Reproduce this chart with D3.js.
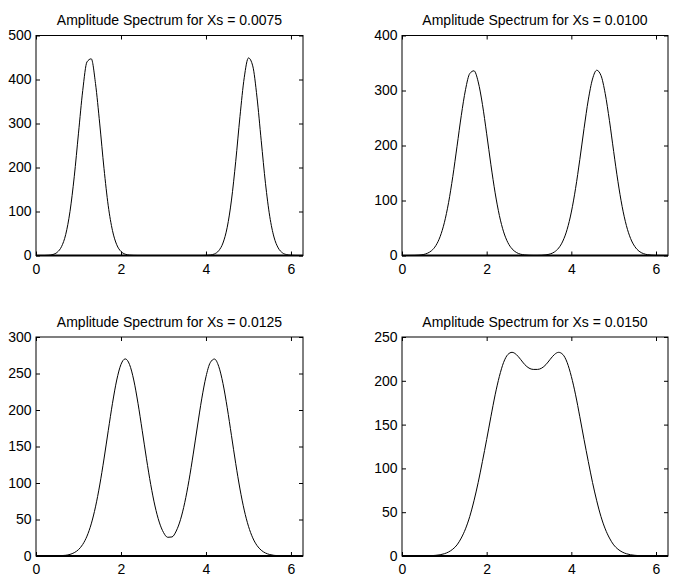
<!DOCTYPE html>
<html>
<head>
<meta charset="utf-8">
<script src="https://cdn.jsdelivr.net/npm/d3@7"></script>
<style>
  body { margin: 0; background: #fff; }
  svg { display: block; }
  text { font-family: "Liberation Sans", Arial, Helvetica, sans-serif; fill: #000; }
</style>
</head>
<body>
<svg id="fig"></svg>
<script>
// frequency axis samples (0 .. 2*pi)
const freq = [0, 0.1, 0.2, 0.3, 0.4, 0.5, 0.6, 0.7, 0.8, 0.9,
    1.0, 1.1, 1.2, 1.3, 1.4, 1.5, 1.6, 1.7, 1.8, 1.9,
    2.0, 2.1, 2.2, 2.3, 2.4, 2.5, 2.6, 2.7, 2.8, 2.9,
    3.0, 3.1, 3.2, 3.3, 3.4, 3.5, 3.6, 3.7, 3.8, 3.9,
    4.0, 4.1, 4.2, 4.3, 4.4, 4.5, 4.6, 4.7, 4.8, 4.9,
    5.0, 5.1, 5.2, 5.3, 5.4, 5.5, 5.6, 5.7, 5.8, 5.9,
    6.0, 6.1, 6.2, 6.2832];

// amplitude spectra
const amp0075 = [0, 0, 0, 0.6, 2.3, 7.4, 20, 48, 100, 179,
    278, 375, 440, 447, 391, 299, 198, 113, 56.5, 24.4,
    9.1, 3.0, 0.8, 0.2, 0, 0, 0, 0, 0, 0,
    0, 0, 0, 0, 0, 0, 0, 0, 0, 0,
    0.3, 1.0, 3.6, 10.9, 28.4, 64.2, 126, 214, 316, 404,
    449, 431, 360, 261, 164, 89.2, 42.1, 17.2, 6.1, 1.9,
    0.5, 0.1, 0, 0];

const amp0100 = [0, 0, 0.1, 0.2, 0.7, 1.7, 4.1, 8.9, 18.1, 34.2,
    59.6, 96.1, 143.6, 198.6, 254.3, 301.4, 330.7, 335.8, 315.7, 274.8,
    221.3, 165.0, 113.9, 72.8, 43.0, 23.6, 12.0, 5.6, 2.4, 1.0,
    0.4, 0.2, 0.2, 0.4, 1.2, 2.8, 6.4, 13.5, 26.3, 47.3,
    79.0, 122.0, 174.4, 230.8, 282.8, 320.8, 336.8, 327.3, 294.4, 245.2,
    189.0, 134.9, 89.1, 54.5, 30.8, 16.2, 7.8, 3.5, 1.5, 0.6,
    0.2, 0.1, 0, 0];

const amp0125 = [0, 0, 0, 0, 0.1, 0.2, 0.5, 1.0, 2.2, 4.6,
    8.7, 15.9, 27.2, 44.0, 67.3, 97.3, 132.9, 171.6, 209.2, 241.1,
    262.5, 270, 262.5, 241.1, 209.2, 171.6, 133.1, 97.8, 68.5, 46.5,
    32.3, 25.6, 26.1, 34.2, 49.7, 73.0, 103.5, 139.6, 178.1, 215.2,
    245.5, 264.8, 269.8, 259.7, 236.3, 203.1, 164.9, 126.6, 91.8, 62.9,
    40.7, 24.9, 14.4, 7.9, 4.1, 2.0, 0.9, 0.4, 0.2, 0.1,
    0, 0, 0, 0];

const amp0150 = [0, 0, 0, 0, 0, 0, 0.2, 0.4, 0.8, 1.4,
    2.6, 4.6, 7.8, 12.7, 20.5, 31, 45, 63, 84, 108,
    133, 159, 184, 205, 221, 230, 232.5, 230, 224.5, 218.5,
    214.5, 213, 213, 214.5, 218.5, 224.5, 230, 232.5, 230, 221,
    205, 184, 159, 133, 108, 84, 63, 45, 31, 20.5,
    12.7, 7.8, 4.6, 2.6, 1.4, 0.8, 0.4, 0.2, 0, 0,
    0, 0, 0, 0];

const titles = ["Amplitude Spectrum for Xs = 0.0075", "Amplitude Spectrum for Xs = 0.0100",
    "Amplitude Spectrum for Xs = 0.0125", "Amplitude Spectrum for Xs = 0.0150"];
const xTicks = [0, 2, 4, 6];
const yTicks0075 = [0, 100, 200, 300, 400, 500];
const yTicks0100 = [0, 100, 200, 300, 400];
const yTicks0125 = [0, 50, 100, 150, 200, 250, 300];
const yTicks0150 = [0, 50, 100, 150, 200, 250];

function main() {
    let svg = d3.select("#fig")
        .attr("width", 673)
        .attr("height", 576);

    svg.append("rect").attr("width", 673).attr("height", 576).attr("fill", "#fff");

    // subplot boxes (left, top, right, bottom)
    const boxes = [
        [36, 35.5, 303, 255.5],
        [402, 35.5, 668, 255.5],
        [36, 337, 303, 556],
        [402, 337, 668, 556]
    ];
    const series = [amp0075, amp0100, amp0125, amp0150];
    const yTicks = [yTicks0075, yTicks0100, yTicks0125, yTicks0150];

    boxes.forEach((b, i) => panel(svg, b, titles[i], series[i], yTicks[i]));
}

function panel(svg, box, title, values, yTickVals) {
    const [left, top, right, bottom] = box;
    const fontSize = 14;
    const tick = 4;

    let x = d3.scaleLinear().domain([0, 2 * Math.PI]).range([left, right]);
    let y = d3.scaleLinear().domain([0, d3.max(yTickVals)]).range([bottom, top]);

    let g = svg.append("g");

    // white axes background
    g.append("rect")
        .attr("x", left).attr("y", top)
        .attr("width", right - left).attr("height", bottom - top)
        .attr("fill", "#fff");

    // the spectrum line
    let line = d3.line()
        .x((d, i) => x(freq[i]))
        .y(d => y(d))
        .curve(d3.curveMonotoneX);

    g.append("path")
        .datum(values)
        .attr("d", line)
        .attr("fill", "none")
        .attr("stroke", "#000")
        .attr("stroke-width", 1);

    // bottom axis with labels, ticks pointing inward
    let xb = g.append("g")
        .attr("transform", `translate(0,${bottom})`)
        .call(d3.axisBottom(x).tickValues(xTicks).tickFormat(d3.format("d"))
            .tickSizeInner(-tick).tickSizeOuter(0).tickPadding(8.5));
    // top ticks only
    let xt = g.append("g")
        .attr("transform", `translate(0,${top})`)
        .call(d3.axisTop(x).tickValues(xTicks).tickFormat("")
            .tickSizeInner(-tick).tickSizeOuter(0));
    // left axis with labels
    let yl = g.append("g")
        .attr("transform", `translate(${left},0)`)
        .call(d3.axisLeft(y).tickValues(yTickVals).tickFormat(d3.format("d"))
            .tickSizeInner(-tick).tickSizeOuter(0).tickPadding(4.5));
    // right ticks only
    let yr = g.append("g")
        .attr("transform", `translate(${right},0)`)
        .call(d3.axisRight(y).tickValues(yTickVals).tickFormat("")
            .tickSizeInner(-tick).tickSizeOuter(0));

    [xb, xt, yl, yr].forEach(a => {
        a.select(".domain").remove();
        a.selectAll("line").attr("stroke", "#000");
        a.selectAll("text")
            .attr("font-family", "'Liberation Sans', Arial, Helvetica, sans-serif")
            .attr("font-size", fontSize)
            .attr("fill", "#000");
    });

    // box frame
    g.append("rect")
        .attr("x", left).attr("y", top)
        .attr("width", right - left).attr("height", bottom - top)
        .attr("fill", "none")
        .attr("stroke", "#000")
        .attr("stroke-width", 1);

    // the zero line sits on the bottom edge and reads heavier
    g.append("line")
        .attr("x1", left).attr("x2", right)
        .attr("y1", bottom).attr("y2", bottom)
        .attr("stroke", "#000")
        .attr("stroke-width", 2);

    // title
    g.append("text")
        .text(title)
        .attr("x", (left + right) / 2)
        .attr("y", top - 10.5)
        .attr("font-size", fontSize)
        .style("text-anchor", "middle");
}

main();
</script>
</body>
</html>
